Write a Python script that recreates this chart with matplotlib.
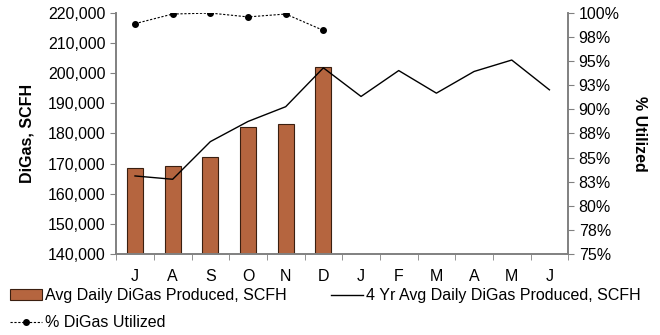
import matplotlib
matplotlib.use("Agg")
import matplotlib.pyplot as plt
import matplotlib.ticker as ticker
import numpy as np

plt.rcParams["font.family"] = ["Liberation Sans", "DejaVu Sans"]

months = ["J", "A", "S", "O", "N", "D", "J", "F", "M", "A", "M", "J"]
avg_daily = [168500, 169300, 172300, 182000, 183300, 202000]
four_yr_avg = [165900, 164800, 177300, 184000, 188900, 201800,
               192300, 200900, 193400, 200600, 204400, 194500]
pct_utilized = [98.9, 99.9, 100.0, 99.6, 99.9, 98.2]

fig = plt.figure(figsize=(6.6, 3.35), dpi=100)
ax = fig.add_axes([0.176, 0.242, 0.685, 0.719])
ax2 = ax.twinx()

x = np.arange(len(months))
n = len(avg_daily)
ax.bar(x[:n], avg_daily, width=0.42, color="#B5653F", edgecolor="#3a1f10",
       linewidth=0.8, zorder=2, label="Avg Daily DiGas Produced, SCFH")
ax.plot(x, four_yr_avg, color="black", linewidth=1.0, zorder=3,
        label="4 Yr Avg Daily DiGas Produced, SCFH")
ax2.plot(x[:n], pct_utilized, color="black", linestyle=(0, (2, 1.5)), linewidth=0.8,
         marker="o", markersize=4, label="% DiGas Utilized")

ax.set_xlim(-0.5, len(months) - 0.5)
ax.set_ylim(140000, 220000)
ax.yaxis.set_major_locator(ticker.MultipleLocator(10000))
ax.yaxis.set_major_formatter(ticker.FuncFormatter(lambda v, p: f"{int(v):,}"))
ax.set_xticks(x)
ax.set_xticklabels(months)
ax.xaxis.set_minor_locator(ticker.FixedLocator(np.arange(-0.5, len(months), 1)))
ax.tick_params(axis="x", which="major", length=0, pad=11)
ax.tick_params(axis="x", which="minor", length=4, color="#808080")
ax.tick_params(axis="y", length=4, color="#808080")
ax.tick_params(labelsize=11.5)

ax2.set_ylim(75, 100)
ax2.yaxis.set_major_locator(ticker.MultipleLocator(2.5))
ax2.yaxis.set_major_formatter(ticker.FuncFormatter(lambda v, p: f"{int(v + 0.5)}%"))
ax2.tick_params(axis="y", length=4, color="#808080", labelsize=11.5)

for a in (ax, ax2):
    a.spines["top"].set_visible(False)
    for s in ("left", "right", "bottom"):
        a.spines[s].set_color("#808080")
        a.spines[s].set_linewidth(1.2)

ax.set_ylabel("DiGas, SCFH", fontsize=11.5, fontweight="bold", labelpad=10)
ax2.set_ylabel("% Utilized", fontsize=11.5, fontweight="bold", rotation=-90, labelpad=20)

h1, l1 = ax.get_legend_handles_labels()
h2, l2 = ax2.get_legend_handles_labels()
handles = [h1[1], h2[0], h1[0]]
labels = [l1[1], l2[0], l1[0]]
fig.legend(handles, labels, loc="lower left", bbox_to_anchor=(0.0, -0.015), ncol=2,
           frameon=False, fontsize=11.5, handlelength=2.0, handletextpad=0.2,
           columnspacing=2.8, borderaxespad=0.2, labelspacing=0.75)

fig.savefig("out.png", dpi=100)
